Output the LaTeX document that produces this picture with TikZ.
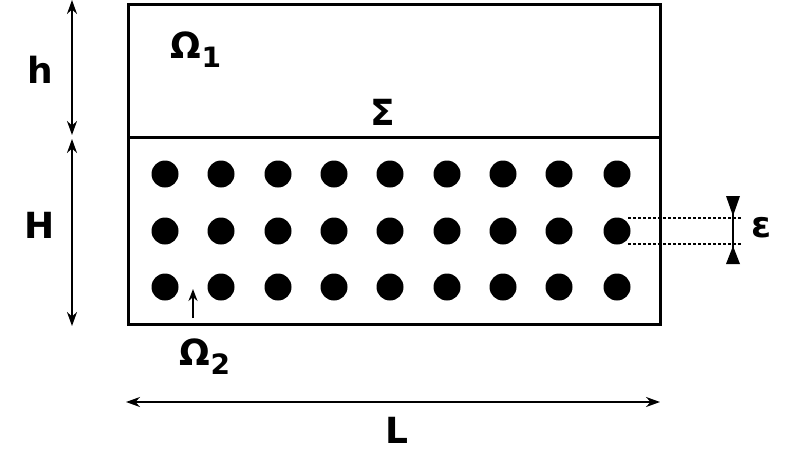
\documentclass[tikz,border=0pt]{standalone}
\usepackage{fontspec}
\setmainfont{DejaVu Sans}
\usetikzlibrary{arrows.meta}
\newcommand{\mysub}[1]{\raisebox{-9pt}{\fontsize{28}{28}\selectfont #1}}
\begin{document}
\begin{tikzpicture}[x=1pt,y=-1pt,
  box/.style={draw,line width=3pt},
  dot/.style={circle,fill=black,minimum size=27pt,inner sep=0pt},
  dim/.style={line width=2pt,{Stealth[length=14pt,width=10pt]}-{Stealth[length=14pt,width=10pt]}},
  lbl/.style={font=\fontsize{36}{36}\selectfont\bfseries}]
\fill[white] (0,0) rectangle (800,450);
\useasboundingbox (0,0) rectangle (800,450);
\draw[box] (128,4) rectangle (660,137);
\draw[box] (128,137) rectangle (660,324);
\foreach \c [count=\i] in {165,221,278,334,390,447,503,559,617}
  \foreach \r [count=\j] in {174,231,287}
    \node[dot] (d\i\j) at (\c,\r) {};
\node[lbl] (h) at (40,70) {h};
\node[lbl] (Hl) at (40,225) {H};
\coordinate (h1) at (72,0); \coordinate (h2) at (72,135);
\coordinate (H1) at (72,139); \coordinate (H2) at (72,326);
\draw[dim] (h1) -- (h2);
\draw[dim] (H1) -- (H2);
\node[lbl] (o1) at (196,50) {Ω\mysub{1}};
\node[lbl] (s) at (383,112) {Σ};
\node[lbl] (o2) at (205,357) {Ω\mysub{2}};
\coordinate (a1) at (193,318); \coordinate (a2) at (193,289);
\draw[line width=2pt,-{Stealth[length=12pt,width=9pt]}] (a1) -- (a2);
\coordinate (L1) at (126,402); \coordinate (L2) at (660,402);
\draw[dim] (L1) -- (L2);
\node[lbl] (L) at (397,430) {L};
\coordinate (e1) at (628,218); \coordinate (e2) at (742,218);
\coordinate (e3) at (628,244); \coordinate (e4) at (742,244);
\draw[line width=1.4pt,dash pattern=on 3pt off 2pt] (e1) -- (e2) (e3) -- (e4);
\coordinate (t0) at (733,196); \coordinate (b0) at (733,264);
\draw[line width=2pt] (t0) -- (b0);
\fill (726,196) -- (740,196) -- (733,216) -- cycle;
\fill (726,264) -- (740,264) -- (733,246) -- cycle;
\node[lbl] (eps) at (762,228) {ε};
\end{tikzpicture}
\end{document}
